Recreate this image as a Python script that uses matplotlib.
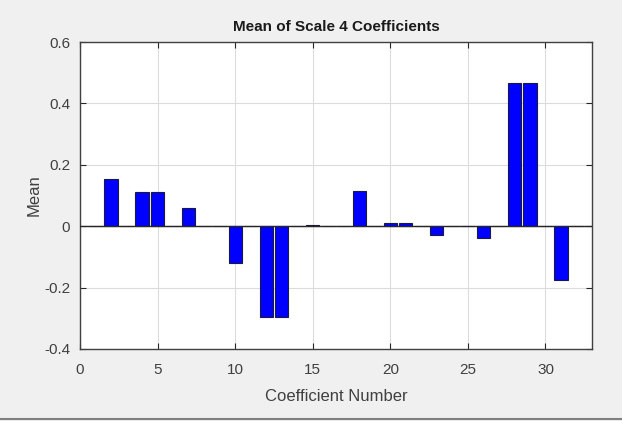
import numpy as np
import matplotlib
matplotlib.use('Agg')
import matplotlib.pyplot as plt

# Coefficient numbers and their mean values
coef_num = list(range(1, 33))
mean_vals = [0.0, 0.155, 0.0, 0.11, 0.11, 0.0, 0.06, 0.0, 0.0, -0.12,
             0.0, -0.295, -0.295, 0.0, 0.005, 0.0, 0.0, 0.115, 0.0, 0.01,
             0.01, 0.0, -0.03, 0.0, 0.0, -0.04, 0.0, 0.465, 0.465, 0.0,
             -0.175, 0.0]
x_ticks = [0, 5, 10, 15, 20, 25, 30]
y_ticks = [-0.4, -0.2, 0, 0.2, 0.4, 0.6]
y_labels = ['-0.4', '-0.2', '0', '0.2', '0.4', '0.6']

plt.rcParams['font.family'] = ['Liberation Sans', 'DejaVu Sans']

fig = plt.figure(figsize=(6.22, 4.21), dpi=100, facecolor='#f0f0f0')
ax = fig.add_axes([80 / 622, 1 - 349 / 421, 512 / 622, 307 / 421])
ax.set_facecolor('white')

ax.bar(coef_num, mean_vals, width=0.85, color='#0000ff', edgecolor='#1a1a40',
       linewidth=0.8, zorder=3)
ax.axhline(0, color='#262626', linewidth=1.0, zorder=4)

ax.set_xlim(0, 33)
ax.set_ylim(-0.4, 0.6)
ax.set_xticks(x_ticks)
ax.set_yticks(y_ticks)
ax.set_yticklabels(y_labels)
ax.grid(True, color='#dcdcdc', linewidth=0.8, zorder=0)
ax.tick_params(direction='in', length=4, color='#262626', labelsize=11,
               labelcolor='#404040', top=True, right=True,
               labeltop=False, labelright=False)
ax.tick_params(axis='x', pad=10)
ax.tick_params(axis='y', pad=7)
for s in ax.spines.values():
    s.set_color('#404040')
    s.set_linewidth(1.0)

ax.set_title('Mean of Scale 4 Coefficients', fontsize=11, fontweight='bold',
             color='#1a1a1a', pad=8)
ax.set_xlabel('Coefficient Number', fontsize=12, color='#404040', labelpad=9)
ax.set_ylabel('Mean', fontsize=12, color='#404040', labelpad=2)

# thin gray frame line at the bottom of the picture
fig.add_artist(plt.Line2D([0, 1], [0.004, 0.004], color='#808080',
                          linewidth=1.5, transform=fig.transFigure))

fig.savefig('out.png', dpi=100, facecolor=fig.get_facecolor())
